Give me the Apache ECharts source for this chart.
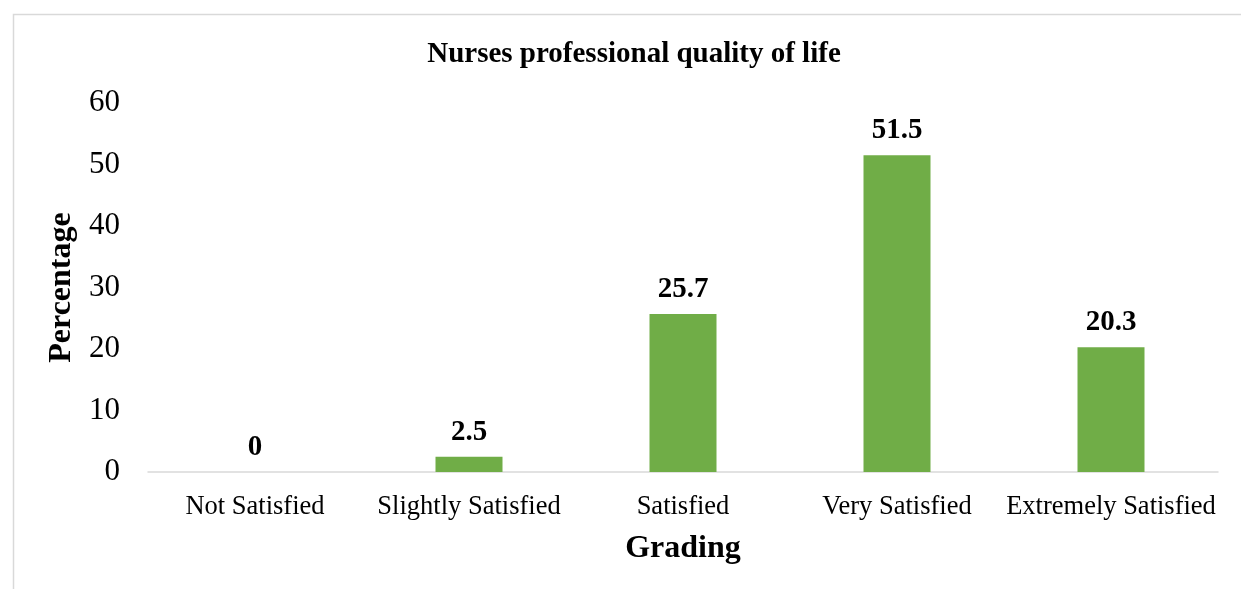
<!DOCTYPE html>
<html><head><meta charset="utf-8">
<script src="https://cdn.jsdelivr.net/npm/echarts@6/dist/echarts.min.js"></script>
<style>html,body{margin:0;padding:0;background:#fff}#c{width:1241px;height:589px}</style>
</head><body><div id="c"></div>
<script>
const categories = ['Not Satisfied', 'Slightly Satisfied', 'Satisfied', 'Very Satisfied', 'Extremely Satisfied'];
const percentages = [0, 2.5, 25.7, 51.5, 20.3];
const yTicks = [0, 10, 20, 30, 40, 50, 60];

const font = '"Liberation Serif", "Times New Roman", serif';
const chart = echarts.init(document.getElementById('c'));
chart.setOption({
  backgroundColor: '#fff',
  animation: false,
  title: {
    text: 'Nurses professional quality of life',
    left: 629, top: 35, textAlign: 'center',
    textStyle: { fontFamily: font, fontSize: 29, fontWeight: 'bold', color: '#000' }
  },
  graphic: [{
    type: 'rect', left: 11, top: 12, shape: { width: 1240, height: 600 },
    style: { fill: 'none', stroke: '#d9d9d9', lineWidth: 1.5 }, silent: true, z: -1
  }],
  grid: { left: 148, right: 23, top: 103, bottom: 117 },
  xAxis: {
    type: 'category', data: categories,
    axisLine: { lineStyle: { color: '#d9d9d9', width: 1.5 } },
    axisTick: { show: false },
    axisLabel: { fontFamily: font, fontSize: 26.5, color: '#000', margin: 22, interval: 0 },
    name: 'Grading', nameLocation: 'middle', nameGap: 61,
    nameTextStyle: { fontFamily: font, fontSize: 32, fontWeight: 'bold', color: '#000' }
  },
  yAxis: {
    type: 'value', min: yTicks[0], max: yTicks[yTicks.length - 1], interval: 10,
    splitLine: { show: false },
    axisLine: { show: false }, axisTick: { show: false },
    axisLabel: { fontFamily: font, fontSize: 31, color: '#000', margin: 28 },
    name: 'Percentage', nameLocation: 'middle', nameGap: 64,
    nameTextStyle: { fontFamily: font, fontSize: 32, fontWeight: 'bold', color: '#000' }
  },
  series: [{
    type: 'bar', data: percentages, barWidth: 67,
    itemStyle: { color: '#70AD47' },
    label: {
      show: true, position: 'top', distance: 10,
      fontFamily: font, fontSize: 29, fontWeight: 'bold', color: '#000'
    }
  }]
});
</script></body></html>
